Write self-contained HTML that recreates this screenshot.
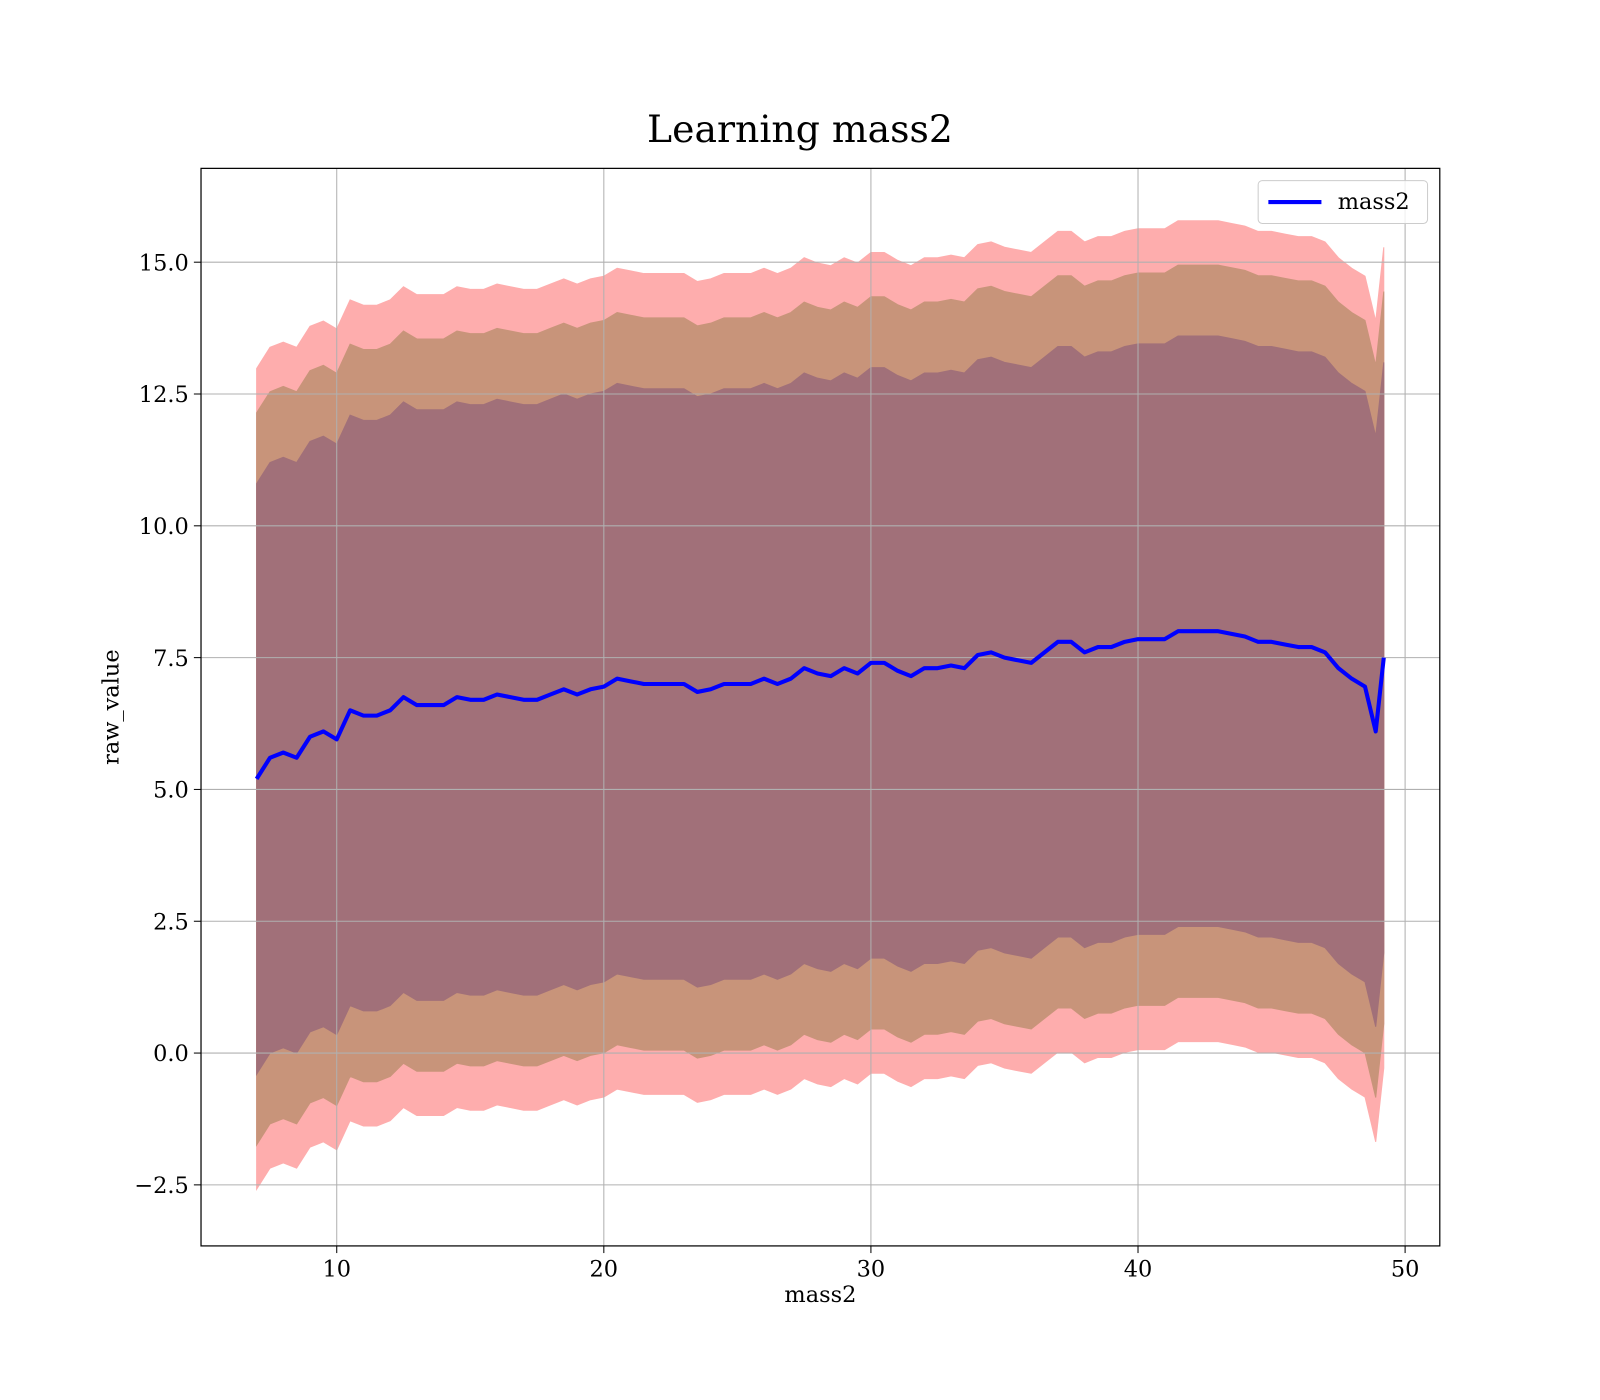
<!DOCTYPE html>
<html><head><meta charset="utf-8"><style>
html,body{margin:0;padding:0;background:#fff;}
svg{display:block;font-family:"DejaVu Serif","Liberation Serif",serif;}
</style></head><body>
<svg id="chart" width="1600" height="1400" viewBox="0 0 1568 1372">
<rect width="1568" height="1372" fill="#fff"/>
<text x="784" y="139" font-size="37" text-anchor="middle">Learning mass2</text>
<g id="bands"></g>
<g id="grid"></g>
<g id="line"></g>
<rect x="197" y="165" width="1214" height="1056" fill="none" stroke="#000" stroke-width="1.2"/>
<g id="ticks" font-size="22"></g>
<text x="804" y="1276" font-size="22" text-anchor="middle">mass2</text>
<text transform="translate(116,693) rotate(-90)" font-size="22" text-anchor="middle">raw_value</text>
<g>
<rect x="1233" y="177" width="166" height="42" rx="4" fill="#fff" fill-opacity="0.8" stroke="#ccc"/>
<line x1="1243" y1="198" x2="1295" y2="198" stroke="#0000ff" stroke-width="4"/>
<text x="1311" y="205" font-size="22">mass2</text>
</g>
</svg>
<script>
const xs=[7,7.5,8,8.5,9,9.5,10,10.5,11,11.5,12,12.5,13,13.5,14,14.5,15,15.5,16,16.5,17,17.5,18,18.5,19,19.5,20,20.5,21,21.5,22,22.5,23,23.5,24,24.5,25,25.5,26,26.5,27,27.5,28,28.5,29,29.5,30,30.5,31,31.5,32,32.5,33,33.5,34,34.5,35,35.5,36,36.5,37,37.5,38,38.5,39,39.5,40,40.5,41,41.5,42,42.5,43,43.5,44,44.5,45,45.5,46,46.5,47,47.5,48,48.5,48.9,49.2];
const meanVals=[5.2,5.6,5.7,5.6,6.0,6.1,5.95,6.5,6.4,6.4,6.5,6.75,6.6,6.6,6.6,6.75,6.7,6.7,6.8,6.75,6.7,6.7,6.8,6.9,6.8,6.9,6.95,7.1,7.05,7.0,7.0,7.0,7.0,6.85,6.9,7.0,7.0,7.0,7.1,7.0,7.1,7.3,7.2,7.15,7.3,7.2,7.4,7.4,7.25,7.15,7.3,7.3,7.35,7.3,7.55,7.6,7.5,7.45,7.4,7.6,7.8,7.8,7.6,7.7,7.7,7.8,7.85,7.85,7.85,8.0,8.0,8.0,8.0,7.95,7.9,7.8,7.8,7.75,7.7,7.7,7.6,7.3,7.1,6.95,6.1,7.5];
const stdVals=xs.map(()=>5.6);
const bandMult=[1.39,1.24,1.0];
const bandColors=["#feadad","#c8947a","#a17079"];
const bandNames=["band-outer","band-middle","band-inner"];
const xTicks=[10,20,30,40,50];
const yTicks=[-2.5,0,2.5,5,7.5,10,12.5,15];
const yTickLabels=["\u22122.5","0.0","2.5","5.0","7.5","10.0","12.5","15.0"];
const X=v=>330+(v-10)*26.175;
const Y=v=>1032-v*51.67;
const NS="http://www.w3.org/2000/svg";
const bands=document.getElementById('bands');
bandMult.forEach((k,bi)=>{
  let up=xs.map((x,i)=>X(x).toFixed(1)+','+Y(meanVals[i]+k*stdVals[i]).toFixed(1));
  let lo=xs.map((x,i)=>X(x).toFixed(1)+','+Y(meanVals[i]-k*stdVals[i]).toFixed(1)).reverse();
  const p=document.createElementNS(NS,'polygon');
  p.setAttribute('points',up.concat(lo).join(' '));
  p.setAttribute('fill',bandColors[bi]);
  p.setAttribute('stroke',bandColors[bi]);
  
  
  bands.appendChild(p);
});
const grid=document.getElementById('grid'),ticks=document.getElementById('ticks');
xTicks.forEach(t=>{
  const l=document.createElementNS(NS,'line');
  l.setAttribute('x1',X(t));l.setAttribute('x2',X(t));l.setAttribute('y1',165);l.setAttribute('y2',1221);
  l.setAttribute('stroke','#b0b0b0');l.setAttribute('stroke-width','1');
  
  
  grid.appendChild(l);
  const tk=document.createElementNS(NS,'line');
  tk.setAttribute('x1',X(t));tk.setAttribute('x2',X(t));tk.setAttribute('y1',1221);tk.setAttribute('y2',1228);tk.setAttribute('stroke','#000');
  
  
  ticks.appendChild(tk);
  const tx=document.createElementNS(NS,'text');
  tx.setAttribute('x',X(t));tx.setAttribute('y',1251);tx.setAttribute('text-anchor','middle');tx.textContent=t;
  
  
  ticks.appendChild(tx);
});
yTicks.forEach((t,i)=>{
  const l=document.createElementNS(NS,'line');
  l.setAttribute('x1',197);l.setAttribute('x2',1411);l.setAttribute('y1',Y(t));l.setAttribute('y2',Y(t));
  l.setAttribute('stroke','#b0b0b0');l.setAttribute('stroke-width','1');
  
  
  grid.appendChild(l);
  const tk=document.createElementNS(NS,'line');
  tk.setAttribute('x1',190);tk.setAttribute('x2',197);tk.setAttribute('y1',Y(t));tk.setAttribute('y2',Y(t));tk.setAttribute('stroke','#000');
  
  
  ticks.appendChild(tk);
  const tx=document.createElementNS(NS,'text');
  tx.setAttribute('x',185);tx.setAttribute('y',Y(t)+8);tx.setAttribute('text-anchor','end');tx.textContent=yTickLabels[i];
  
  
  ticks.appendChild(tx);
});
const pl=document.createElementNS(NS,'polyline');
pl.setAttribute('points',xs.map((x,i)=>X(x).toFixed(1)+','+Y(meanVals[i]).toFixed(1)).join(' '));
pl.setAttribute('fill','none');pl.setAttribute('stroke','#0000ff');pl.setAttribute('stroke-width','4');pl.setAttribute('stroke-linejoin','round');


document.getElementById('line').appendChild(pl);
</script>
</body></html>
